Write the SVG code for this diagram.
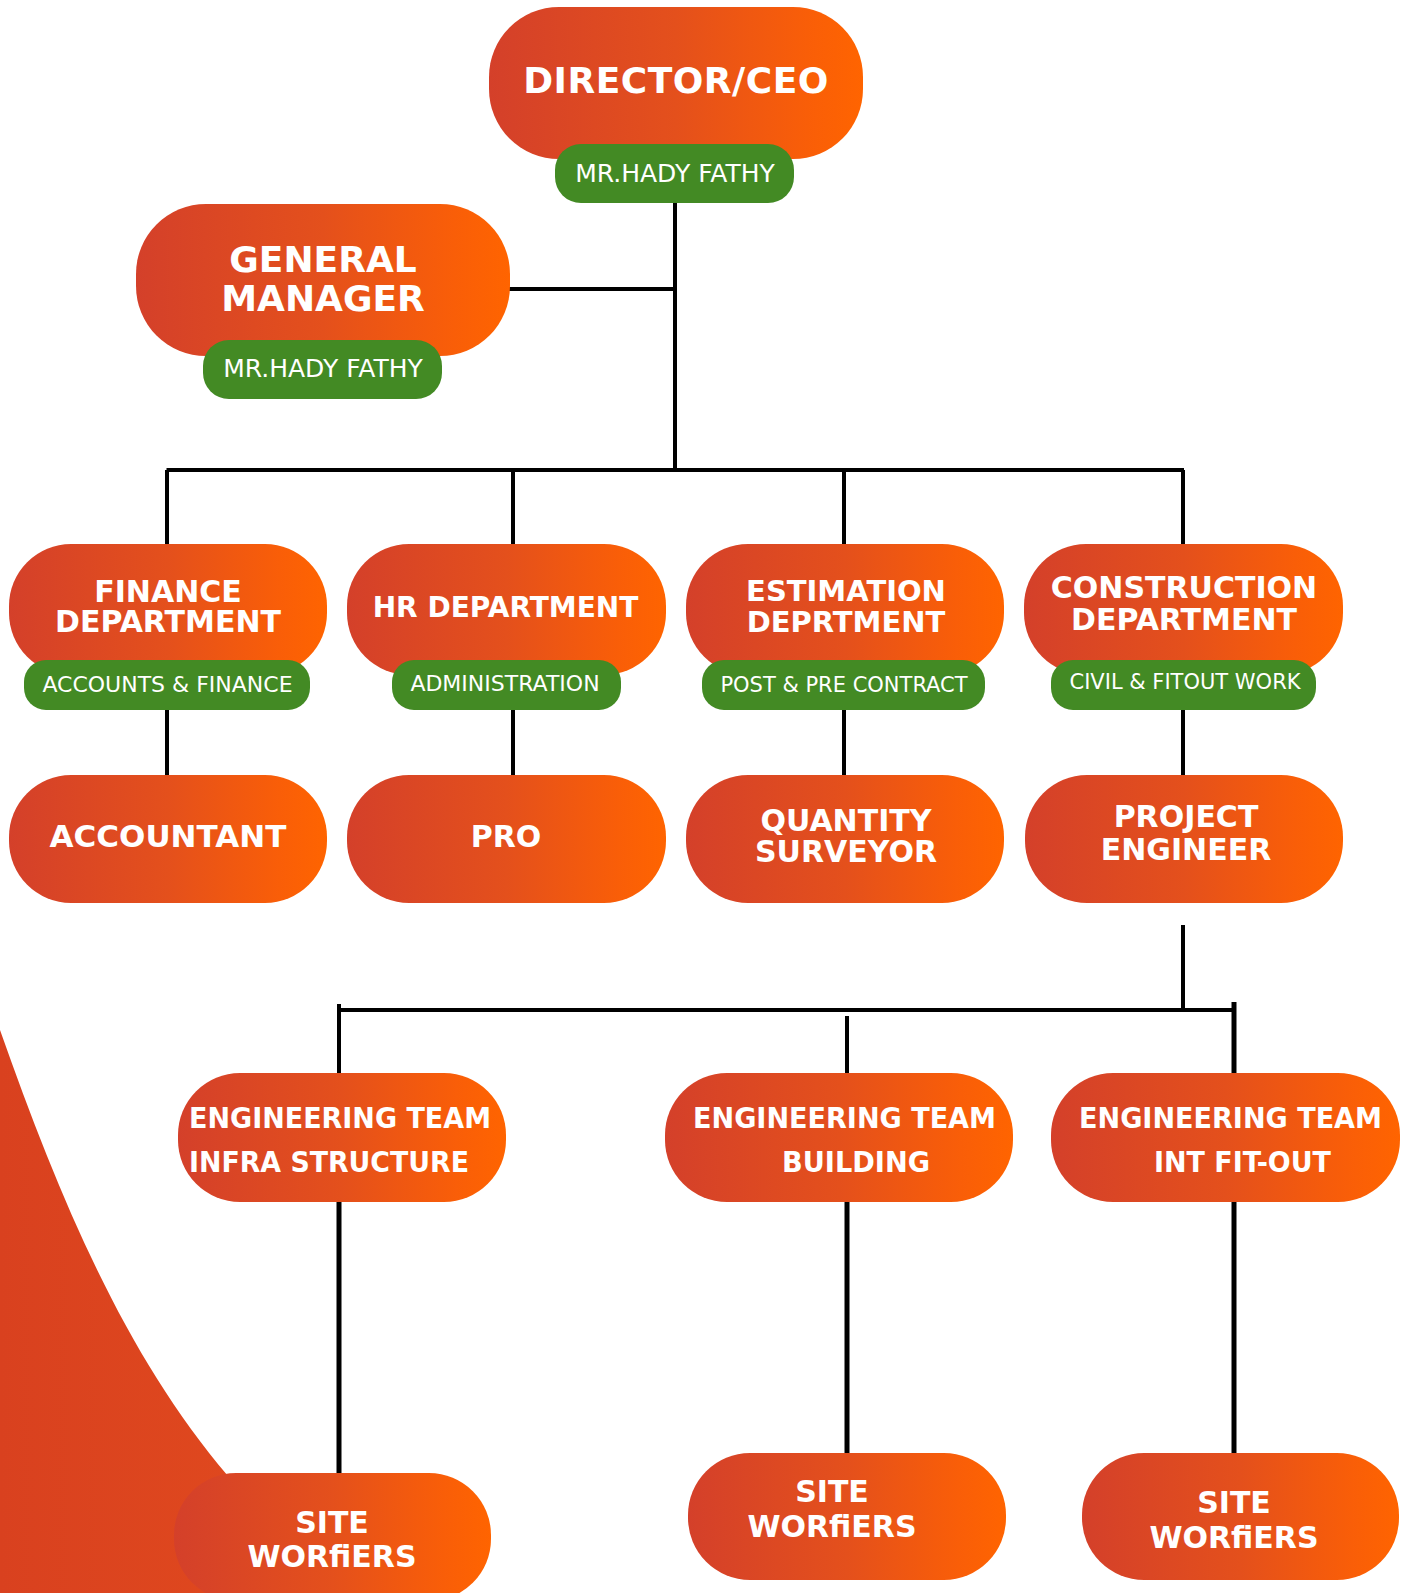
<svg xmlns="http://www.w3.org/2000/svg" width="1409" height="1593" viewBox="0 0 1409 1593">
<defs>
<linearGradient id="og" x1="0" y1="0" x2="1" y2="0">
<stop offset="0" stop-color="#D4402A"/>
<stop offset="0.5" stop-color="#E4501C"/>
<stop offset="0.85" stop-color="#F95E08"/>
<stop offset="1" stop-color="#FF6400"/>
</linearGradient>
<linearGradient id="bg" x1="0" y1="0" x2="1" y2="0">
<stop offset="0" stop-color="#D9411F"/>
<stop offset="1" stop-color="#E14A1E"/>
</linearGradient>
<style>
.pill{fill:url(#og)}
.lab{fill:#438A24}
.t{font-family:"DejaVu Sans","Liberation Sans",sans-serif;font-weight:bold;fill:#fff;text-anchor:middle}
.g{font-family:"DejaVu Sans","Liberation Sans",sans-serif;fill:#fff;text-anchor:middle}
.c{font-family:"DejaVu Sans Condensed","Liberation Sans Narrow","DejaVu Sans",sans-serif;font-weight:bold;fill:#fff;font-size:29px}
.ln{stroke:#000;stroke-width:4;fill:none}
.lw{stroke:#000;stroke-width:5;fill:none}
</style>
</defs>
<rect width="1409" height="1593" fill="#fff"/>
<path d="M0,1030 C60,1200 125,1355 228,1476 L300,1476 L300,1593 L0,1593 Z" fill="url(#bg)"/>

<g id="connectors">
<path class="ln" d="M675,200 V470"/>
<path class="ln" d="M508,289 H675"/>
<path class="ln" d="M166.5,470 H1184"/>
<path class="ln" d="M167,470 V546 M513,470 V546 M844,470 V546 M1183,470 V546"/>
<path class="ln" d="M167,708 V777 M513,708 V777 M844,708 V777 M1183,708 V777"/>
<path class="ln" d="M1183,925 V1010"/>
<path class="ln" d="M339,1010 H1234"/>
<path class="ln" d="M339,1004 V1075 M847,1016 V1075"/>
<path class="lw" d="M1234,1002 V1075"/>
<path class="lw" d="M339,1200 V1475 M847,1200 V1455 M1234,1200 V1455"/>
</g>

<g id="director">
<rect class="pill" x="489" y="7" width="374" height="152" rx="70"/>
<text class="t" x="676" y="93" font-size="36" letter-spacing="0.5">DIRECTOR/CEO</text>
<rect class="lab" x="555" y="144" width="239" height="59" rx="26"/>
<text class="g" x="675" y="182" font-size="25">MR.HADY FATHY</text>
</g>

<g id="general-manager">
<rect class="pill" x="136" y="204" width="374" height="152" rx="70"/>
<text class="t" x="323" y="272" font-size="36">GENERAL</text>
<text class="t" x="323" y="311" font-size="36">MANAGER</text>
<rect class="lab" x="203" y="340" width="239" height="59" rx="26"/>
<text class="g" x="323" y="377" font-size="25">MR.HADY FATHY</text>
</g>

<g id="finance">
<rect class="pill" x="9" y="544" width="318" height="131" rx="62"/>
<text class="t" x="168" y="602" font-size="30">FINANCE</text>
<text class="t" x="168" y="632" font-size="30">DEPARTMENT</text>
<rect class="lab" x="24" y="660" width="286" height="50" rx="22"/>
<text class="g" x="167.5" y="692" font-size="22">ACCOUNTS &amp; FINANCE</text>
</g>

<g id="hr">
<rect class="pill" x="347" y="544" width="319" height="131" rx="62"/>
<text class="t" x="505.5" y="617" font-size="28">HR DEPARTMENT</text>
<rect class="lab" x="392" y="660" width="229" height="50" rx="22"/>
<text class="g" x="505" y="691" font-size="22">ADMINISTRATION</text>
</g>

<g id="estimation">
<rect class="pill" x="686" y="544" width="318" height="131" rx="62"/>
<text class="t" x="846" y="601" font-size="29">ESTIMATION</text>
<text class="t" x="846" y="632" font-size="29">DEPRTMENT</text>
<rect class="lab" x="702" y="660" width="283" height="50" rx="22"/>
<text class="g" x="844" y="692" font-size="21">POST &amp; PRE CONTRACT</text>
</g>

<g id="construction">
<rect class="pill" x="1024" y="544" width="319" height="131" rx="62"/>
<text class="t" x="1184" y="598" font-size="30">CONSTRUCTION</text>
<text class="t" x="1184" y="630" font-size="30">DEPARTMENT</text>
<rect class="lab" x="1051" y="660" width="265" height="50" rx="22"/>
<text class="g" x="1185" y="689" font-size="21">CIVIL &amp; FITOUT WORK</text>
</g>

<g id="accountant">
<rect class="pill" x="9" y="775" width="318" height="128" rx="62"/>
<text class="t" x="168" y="847" font-size="31">ACCOUNTANT</text>
</g>

<g id="pro">
<rect class="pill" x="347" y="775" width="319" height="128" rx="62"/>
<text class="t" x="506" y="847" font-size="30">PRO</text>
</g>

<g id="quantity-surveyor">
<rect class="pill" x="686" y="775" width="318" height="128" rx="62"/>
<text class="t" x="846" y="831" font-size="30">QUANTITY</text>
<text class="t" x="846" y="862" font-size="30">SURVEYOR</text>
</g>

<g id="project-engineer">
<rect class="pill" x="1025" y="775" width="318" height="128" rx="62"/>
<text class="t" x="1186" y="827" font-size="30">PROJECT</text>
<text class="t" x="1186" y="860" font-size="30">ENGINEER</text>
</g>

<g id="eng-infra">
<rect class="pill" x="178" y="1073" width="328" height="129" rx="62"/>
<text class="c" x="189" y="1128" textLength="302" lengthAdjust="spacingAndGlyphs">ENGINEERING TEAM</text>
<text class="c" x="189" y="1172" textLength="280" lengthAdjust="spacingAndGlyphs">INFRA STRUCTURE</text>
</g>

<g id="eng-building">
<rect class="pill" x="665" y="1073" width="348" height="129" rx="62"/>
<text class="c" x="693" y="1128" textLength="303" lengthAdjust="spacingAndGlyphs">ENGINEERING TEAM</text>
<text class="c" x="782" y="1172" textLength="148" lengthAdjust="spacingAndGlyphs">BUILDING</text>
</g>

<g id="eng-fitout">
<rect class="pill" x="1051" y="1073" width="349" height="129" rx="62"/>
<text class="c" x="1079" y="1128" textLength="303" lengthAdjust="spacingAndGlyphs">ENGINEERING TEAM</text>
<text class="c" x="1154" y="1172" textLength="177" lengthAdjust="spacingAndGlyphs">INT FIT-OUT</text>
</g>

<g id="site-infra">
<rect class="pill" x="174" y="1473" width="317" height="128" rx="62"/>
<text class="t" x="332" y="1533" font-size="30">SITE</text>
<text class="t" x="332" y="1567" font-size="30">WORfiERS</text>
</g>

<g id="site-building">
<rect class="pill" x="688" y="1453" width="318" height="127" rx="62"/>
<text class="t" x="832" y="1502" font-size="30">SITE</text>
<text class="t" x="832" y="1537" font-size="30">WORfiERS</text>
</g>

<g id="site-fitout">
<rect class="pill" x="1082" y="1453" width="317" height="127" rx="62"/>
<text class="t" x="1234" y="1513" font-size="30">SITE</text>
<text class="t" x="1234" y="1548" font-size="30">WORfiERS</text>
</g>
</svg>
